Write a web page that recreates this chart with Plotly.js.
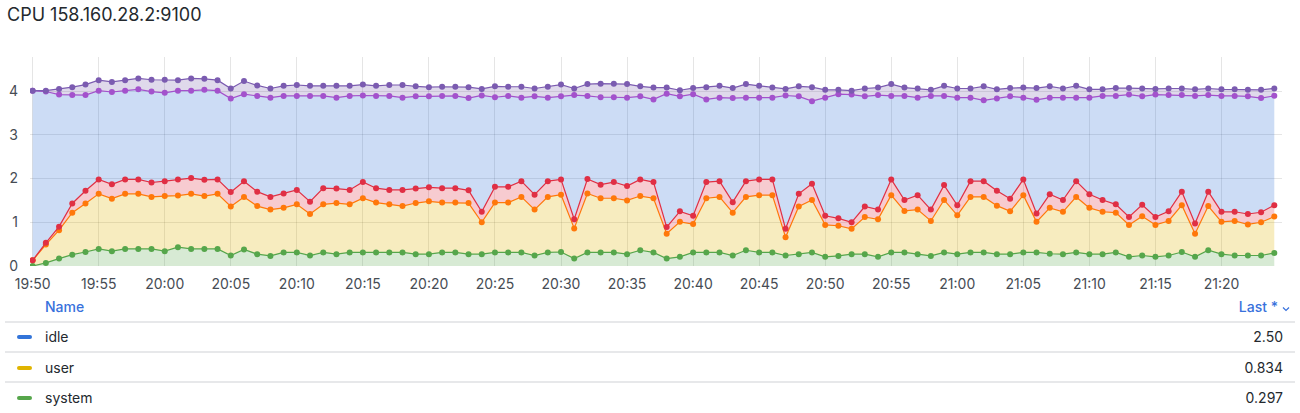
<!DOCTYPE html>
<html>
<head>
<meta charset="utf-8">
<script src="https://cdn.plot.ly/plotly-3.0.1.min.js"></script>
<style>
  html, body { margin:0; padding:0; background:#fff; width:1300px; height:413px; overflow:hidden; font-family:Inter, "Noto Sans", sans-serif; }
  #chart { position:absolute; left:0; top:0; width:1300px; height:300px; }
  .lg { position:absolute; font-size:14px; color:#24292e; line-height:16px; }
  .sep { position:absolute; left:5px; width:1290px; height:2px; background:#e7e8ea; }
  .dash { position:absolute; left:17px; width:15px; height:4px; border-radius:2px; }
</style>
</head>
<body>
<div id="chart"></div>
<div id="legend"></div>
<script>
const times = ["19:50","19:51","19:52","19:53","19:54","19:55","19:56","19:57","19:58","19:59",
"20:00","20:01","20:02","20:03","20:04","20:05","20:06","20:07","20:08","20:09",
"20:10","20:11","20:12","20:13","20:14","20:15","20:16","20:17","20:18","20:19",
"20:20","20:21","20:22","20:23","20:24","20:25","20:26","20:27","20:28","20:29",
"20:30","20:31","20:32","20:33","20:34","20:35","20:36","20:37","20:38","20:39",
"20:40","20:41","20:42","20:43","20:44","20:45","20:46","20:47","20:48","20:49",
"20:50","20:51","20:52","20:53","20:54","20:55","20:56","20:57","20:58","20:59",
"21:00","21:01","21:02","21:03","21:04","21:05","21:06","21:07","21:08","21:09",
"21:10","21:11","21:12","21:13","21:14","21:15","21:16","21:17","21:18","21:19",
"21:20","21:21","21:22","21:23","21:24"];

const system = [0.00,0.07,0.17,0.26,0.32,0.39,0.34,0.39,0.39,0.39,
0.34,0.43,0.39,0.39,0.39,0.24,0.38,0.27,0.23,0.31,
0.31,0.24,0.31,0.27,0.31,0.31,0.31,0.31,0.31,0.27,
0.27,0.31,0.31,0.27,0.27,0.31,0.31,0.31,0.24,0.31,
0.32,0.17,0.31,0.31,0.31,0.27,0.36,0.31,0.17,0.21,
0.31,0.31,0.31,0.24,0.36,0.31,0.31,0.24,0.27,0.31,
0.21,0.23,0.27,0.27,0.21,0.31,0.31,0.27,0.23,0.31,
0.27,0.31,0.31,0.27,0.27,0.31,0.31,0.28,0.27,0.31,
0.27,0.27,0.31,0.21,0.24,0.21,0.24,0.32,0.21,0.36,
0.27,0.24,0.24,0.24,0.297];

const user = [0.13,0.42,0.65,0.96,1.11,1.26,1.20,1.26,1.26,1.19,
1.26,1.18,1.26,1.21,1.26,1.12,1.20,1.10,1.06,1.02,
1.10,0.95,1.10,1.17,1.10,1.24,1.14,1.10,1.06,1.17,
1.21,1.14,1.14,1.17,0.73,1.14,1.14,1.27,1.05,1.27,
1.31,0.69,1.35,1.24,1.24,1.23,1.24,1.24,0.57,0.80,
0.65,1.24,1.27,0.98,1.22,1.31,1.31,0.42,1.09,1.20,
0.73,0.69,0.58,0.85,0.86,1.31,0.95,1.02,0.80,1.20,
0.89,1.27,1.27,1.11,0.98,1.31,0.70,1.05,0.97,1.27,
1.06,0.97,0.91,0.73,0.90,0.73,0.79,1.07,0.53,1.01,
0.74,0.79,0.71,0.76,0.834];

const iowait = [0.00,0.04,0.08,0.21,0.29,0.33,0.33,0.33,0.33,0.33,
0.34,0.37,0.36,0.37,0.33,0.33,0.36,0.33,0.29,0.33,
0.33,0.28,0.37,0.33,0.33,0.37,0.33,0.33,0.37,0.33,
0.32,0.33,0.33,0.29,0.24,0.36,0.36,0.36,0.34,0.36,
0.35,0.21,0.33,0.31,0.37,0.33,0.38,0.37,0.15,0.24,
0.19,0.37,0.36,0.24,0.36,0.36,0.36,0.19,0.29,0.37,
0.21,0.17,0.15,0.24,0.22,0.36,0.25,0.33,0.26,0.34,
0.23,0.36,0.36,0.34,0.29,0.36,0.19,0.31,0.27,0.36,
0.31,0.27,0.19,0.18,0.26,0.18,0.22,0.31,0.23,0.33,
0.23,0.21,0.24,0.23,0.26];

const idle = [3.88,3.46,3.02,2.48,2.19,2.03,2.11,2.03,2.06,2.08,
2.02,2.03,2.00,2.06,2.03,2.14,1.99,2.19,2.27,2.23,
2.15,2.42,2.11,2.08,2.15,1.98,2.11,2.15,2.11,2.11,
2.08,2.11,2.11,2.11,2.66,2.05,2.08,1.91,2.25,1.91,
1.90,2.84,1.90,2.00,1.94,2.02,1.90,1.89,3.05,2.63,
2.78,1.89,1.91,2.38,1.91,1.87,1.87,3.05,2.23,1.89,
2.70,2.84,2.92,2.52,2.62,1.91,2.38,2.23,2.60,2.04,
2.46,1.91,1.85,2.11,2.34,1.87,2.60,2.21,2.34,1.91,
2.21,2.38,2.48,2.80,2.48,2.80,2.66,2.21,2.92,2.21,
2.65,2.65,2.69,2.61,2.50];

const softirq = [0.00,0.02,0.13,0.18,0.24,0.24,0.23,0.24,0.25,0.27,
0.30,0.24,0.28,0.25,0.24,0.23,0.30,0.24,0.21,0.23,
0.25,0.23,0.23,0.27,0.23,0.25,0.23,0.25,0.29,0.23,
0.21,0.21,0.21,0.25,0.15,0.25,0.21,0.25,0.18,0.25,
0.27,0.15,0.27,0.31,0.31,0.31,0.23,0.27,0.14,0.14,
0.14,0.28,0.27,0.23,0.31,0.27,0.23,0.15,0.23,0.32,
0.18,0.10,0.09,0.18,0.17,0.27,0.19,0.21,0.14,0.23,
0.21,0.21,0.32,0.21,0.19,0.23,0.27,0.26,0.21,0.27,
0.19,0.15,0.18,0.15,0.18,0.13,0.15,0.15,0.15,0.15,
0.15,0.15,0.15,0.19,0.17];

const legendNames = ["idle","user","system"];
const legendColors = ["#3274d9","#e0b400","#56a64b"];
const legendSeries = [idle, user, system];
const legendDigits = [2, 3, 3];

const day = "2024-01-01 ";
const x = times.map(t => day + t + ":00");

function tr(name, y, line, fill) {
  return {
    type:'scatter', mode:'lines+markers', name:name, x:x, y:y,
    stackgroup:'cpu', fill:'tonexty', fillcolor:fill,
    line:{color:line, width:1.2},
    marker:{color:line, size:6, symbol:'circle'},
    hoverinfo:'skip'
  };
}

const data = [
  tr('system', system, '#56a64b', 'rgba(86,166,75,0.24)'),
  tr('user', user, '#ff780a', 'rgba(224,180,0,0.25)'),
  tr('iowait', iowait, '#e02f44', 'rgba(224,47,68,0.25)'),
  tr('idle', idle, '#a352cc', 'rgba(50,116,217,0.25)'),
  tr('softirq', softirq, '#7b5bb0', 'rgba(120,95,170,0.24)')
];

const layout = {
  width:1300, height:300,
  margin:{l:30, r:18, t:57, b:34},
  paper_bgcolor:'#ffffff', plot_bgcolor:'#ffffff',
  font:{family:'Inter, "Noto Sans", sans-serif', size:14, color:'#464c54'},
  title:{text:'CPU 158.160.28.2:9100', xref:'container', yref:'container', x:7/1300, xanchor:'left', y:1-15/300, yanchor:'middle',
         font:{family:'Inter, sans-serif', size:18, color:'#24292e', weight:400}},
  showlegend:false,
  xaxis:{type:'date', range:[day+'19:49:48', day+'21:24:35'], tickformat:'%H:%M', dtick:300000, tick0:day+'19:50:00',
         showgrid:true, gridcolor:'rgba(0,0,0,0.10)', gridwidth:1, zeroline:false, showline:false, ticks:'', ticklabelstandoff:8,
         tickfont:{size:14, color:'#464c54'}},
  yaxis:{range:[0,4.78], dtick:1, tick0:0, showgrid:true, gridcolor:'rgba(0,0,0,0.10)', gridwidth:1, zeroline:false, showline:false,
         ticks:'', ticklabelstandoff:11, tickfont:{size:14, color:'#464c54'}}
};

Plotly.newPlot('chart', data, layout, {staticPlot:true, displayModeBar:false});

// legend table
const lg = document.getElementById('legend');
let html = '';
html += '<div class="lg" style="left:45px; top:299px; color:#3871dc; font-weight:500;">Name</div>';
html += '<div class="lg" style="right:22px; top:299px; color:#3871dc; font-weight:500;">Last *</div>';
html += '<svg style="position:absolute; left:1282px; top:306px;" width="8" height="6" viewBox="0 0 8 6"><path d="M1 1.5 L4 4.5 L7 1.5" stroke="#3871dc" stroke-width="1.2" fill="none"/></svg>';
const sepY = [321, 351, 381];
sepY.forEach(y => { html += '<div class="sep" style="top:' + y + 'px"></div>'; });
const rowY = [337, 368, 398];
legendNames.forEach((n, i) => {
  const s = legendSeries[i];
  const last = s[s.length - 1].toFixed(legendDigits[i]);
  html += '<div class="dash" style="top:' + (rowY[i]-2) + 'px; background:' + legendColors[i] + '"></div>';
  html += '<div class="lg" style="left:45px; top:' + (rowY[i]-8) + 'px">' + n + '</div>';
  html += '<div class="lg" style="right:17px; top:' + (rowY[i]-8) + 'px">' + last + '</div>';
});
lg.innerHTML = html;
</script>
</body>
</html>
